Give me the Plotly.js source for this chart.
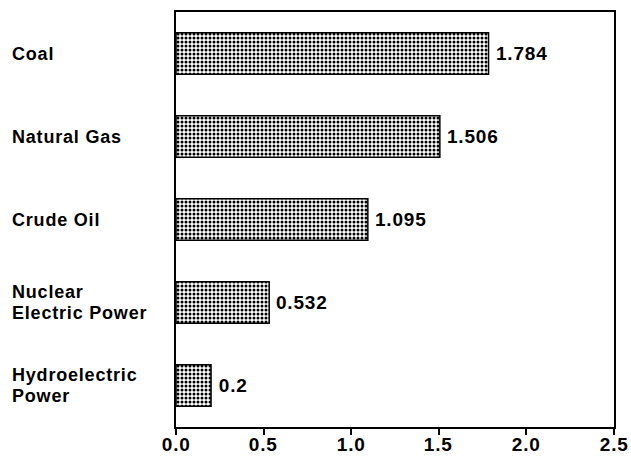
<!DOCTYPE html>
<html>
<head>
<meta charset="utf-8">
<script src="https://cdn.plot.ly/plotly-3.0.1.min.js"></script>
<style>
html,body{margin:0;padding:0;background:#fff;}
#chart{width:631px;height:467px;}
#chart .annotation-text{letter-spacing:0.8px;}
</style>
</head>
<body>
<div id="chart"></div>
<script>
var categories = ["Coal", "Natural Gas", "Crude Oil", "Nuclear<br>Electric Power", "Hydroelectric<br>Power"];
var values = [1.784, 1.506, 1.095, 0.532, 0.2];
var valueLabels = ["1.784", "1.506", "1.095", "0.532", "0.2"];
var tickVals = [0, 0.5, 1.0, 1.5, 2.0, 2.5];
var tickText = ["0.0", "0.5", "1.0", "1.5", "2.0", "2.5"];

var FONT = "Liberation Sans, Arial, Helvetica, sans-serif";

var trace = {
  type: "bar",
  orientation: "h",
  y: categories,
  x: values,
  width: 0.5,
  marker: {
    color: "#ffffff",
    line: {color: "#000000", width: 1.5},
    pattern: {shape: ".", size: 4, solidity: 0.45, fgcolor: "#000000", bgcolor: "#ffffff", fillmode: "replace"}
  },
  hoverinfo: "none",
  showlegend: false
};

var annotations = [];
var LINE_GAP = 21;
categories.forEach(function (c, i) {
  var lines = c.split("<br>");
  lines.forEach(function (ln, j) {
    annotations.push({
      xref: "paper", yref: "y", x: -0.378, y: c,
      text: ln, showarrow: false, xanchor: "left", yanchor: "middle", align: "left",
      yshift: -((j - (lines.length - 1) / 2) * LINE_GAP),
      font: {family: FONT, size: 18, color: "#000", weight: "bold"}
    });
  });
  annotations.push({
    xref: "x", yref: "y", x: values[i], y: c,
    text: valueLabels[i], showarrow: false, xanchor: "left", yanchor: "middle",
    xshift: 7,
    font: {family: FONT, size: 19, color: "#000", weight: "bold"}
  });
});
tickVals.forEach(function (v, i) {
  annotations.push({
    xref: "x", yref: "paper", x: v, y: 0,
    text: tickText[i], showarrow: false, xanchor: "center", yanchor: "top",
    yshift: -5,
    font: {family: FONT, size: 19, color: "#000", weight: "bold"}
  });
});

var layout = {
  width: 631, height: 467,
  margin: {l: 176, r: 17, t: 12, b: 40, pad: 0},
  paper_bgcolor: "#ffffff", plot_bgcolor: "#ffffff",
  xaxis: {
    range: [0, 2.5],
    tickvals: tickVals, showticklabels: false,
    ticks: "outside", ticklen: 6, tickwidth: 2, tickcolor: "#000",
    showline: true, linecolor: "#000", linewidth: 2, mirror: true,
    showgrid: false, zeroline: false
  },
  yaxis: {
    type: "category",
    range: [4.5, -0.5],
    showticklabels: false, ticks: "",
    showline: true, linecolor: "#000", linewidth: 2, mirror: true,
    showgrid: false, zeroline: false
  },
  annotations: annotations
};

Plotly.newPlot("chart", [trace], layout, {staticPlot: true, displayModeBar: false});
</script>
</body>
</html>
